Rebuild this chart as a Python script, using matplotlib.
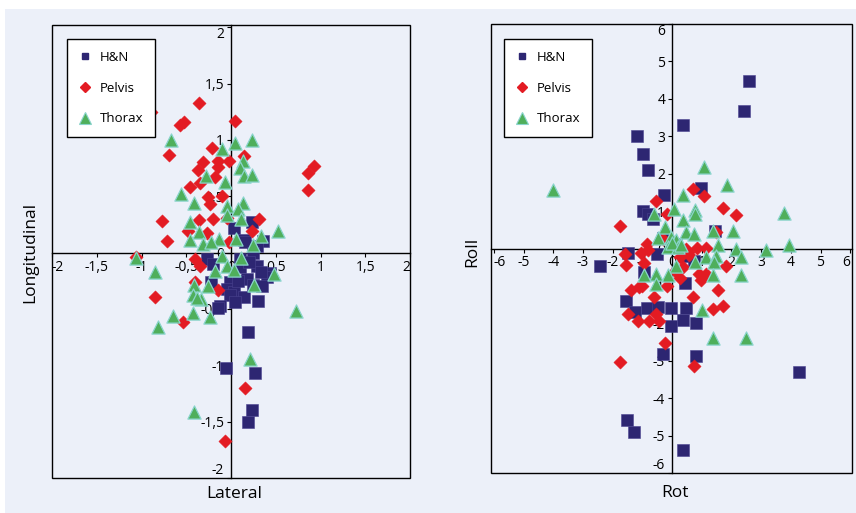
import matplotlib
matplotlib.use("Agg")
import matplotlib.pyplot as plt
from matplotlib.patches import Rectangle
from matplotlib.lines import Line2D

# ---------------- data ----------------
series_names = ["H&N", "Pelvis", "Thorax"]

left_hn = [(0.24, 0.27), (0.03, 0.22), (0.14, 0.11), (0.36, 0.10), (0.16, 0.09), (0.29, 0.06),
           (0.25, 0.00), (0.10, -0.06), (-0.27, -0.06), (-0.20, -0.10), (0.10, -0.13), (0.29, -0.12),
           (0.44, -0.18), (0.40, -0.22), (0.33, -0.17), (0.18, -0.23), (-0.01, -0.26), (-0.22, -0.26),
           (-0.05, -0.32), (0.25, -0.29), (0.03, -0.35), (-0.01, -0.38), (0.14, -0.39), (0.30, -0.43),
           (0.045, -0.44), (-0.12, -0.47), (-0.14, -0.49), (0.19, -0.70), (-0.06, -1.02), (0.27, -1.07),
           (0.24, -1.40), (0.19, -1.50), (0.20, -0.08), (0.35, -0.30), (0.08, -0.25)]
left_pelvis = [(-0.89, 1.25), (-0.36, 1.33), (-0.57, 1.13), (-0.52, 1.16), (0.05, 1.17), (-0.21, 0.93),
               (-0.69, 0.87), (0.14, 0.86), (-0.31, 0.80), (-0.14, 0.81), (-0.02, 0.81), (-0.37, 0.73),
               (-0.15, 0.76), (-0.18, 0.67), (-0.35, 0.62), (-0.46, 0.58), (0.93, 0.77), (0.86, 0.71),
               (0.86, 0.56), (-0.24, 0.43), (-0.26, 0.49), (-0.10, 0.50), (-0.77, 0.28), (-0.36, 0.29),
               (-0.20, 0.30), (-0.05, 0.31), (0.31, 0.30), (0.23, 0.19), (-0.48, 0.19), (-0.72, 0.10),
               (-0.27, 0.17), (-0.02, 0.09), (-1.06, -0.04), (-0.40, -0.06), (-0.35, -0.12), (-0.40, -0.26),
               (-0.14, -0.33), (-0.85, -0.39), (-0.54, -0.62), (0.16, -1.20), (-0.07, -1.67)]
left_thorax = [(-0.67, 1.00), (-0.10, 0.92), (0.05, 0.97), (0.23, 1.00), (0.13, 0.81), (0.10, 0.75),
               (0.15, 0.68), (0.24, 0.69), (-0.28, 0.68), (-0.07, 0.63), (-0.56, 0.52), (-0.41, 0.44),
               (-0.05, 0.41), (0.13, 0.44), (0.08, 0.39), (-0.05, 0.33), (0.11, 0.30), (-0.46, 0.27),
               (-0.36, 0.18), (-0.13, 0.12), (0.06, 0.12), (0.34, 0.15), (0.52, 0.19), (-0.46, 0.11),
               (-0.31, 0.08), (-0.22, 0.09), (0.25, 0.07), (-1.06, -0.05), (-0.10, -0.03), (0.11, -0.05),
               (-0.04, -0.12), (0.03, -0.15), (-0.18, -0.16), (-0.85, -0.17), (0.48, -0.19), (-0.41, -0.29),
               (-0.26, -0.30), (0.26, -0.29), (-0.42, -0.38), (-0.33, -0.41), (0.73, -0.52), (-0.43, -0.54),
               (-0.65, -0.56), (-0.24, -0.57), (-0.82, -0.66), (0.21, -0.94), (-0.41, -1.41), (-0.38, -0.40)]

right_hn = [(2.58, 4.48), (2.43, 3.68), (0.36, 3.31), (-1.19, 3.00), (-0.97, 2.52), (-0.82, 2.09),
            (-0.28, 1.43), (0.98, 1.63), (-0.99, 1.01), (-0.82, 0.92), (-0.65, 0.80), (1.44, 0.46),
            (-0.29, 0.27), (0.13, 0.13), (-1.49, -0.12), (-0.50, -0.16), (0.47, -0.20), (0.75, -0.33),
            (-2.43, -0.48), (-0.93, -0.63), (0.42, -0.92), (-1.56, -1.40), (-1.24, -1.69), (-0.83, -1.60),
            (-0.48, -1.56), (-0.03, -1.58), (0.47, -1.60), (0.36, -1.91), (-0.03, -2.06), (0.81, -2.00),
            (-0.32, -2.81), (0.81, -2.88), (4.29, -3.30), (-1.52, -4.59), (-1.29, -4.90), (0.36, -5.39)]
right_pelvis = [(0.69, 1.58), (1.09, 1.39), (-0.54, 1.28), (1.70, 1.08), (2.15, 0.90), (-0.16, 0.92),
                (-1.77, 0.59), (1.47, 0.44), (-0.85, 0.11), (-0.82, -0.05), (-1.04, -0.13), (-1.60, -0.14),
                (-1.55, -0.45), (-0.93, -0.40), (0.47, 0.00), (0.84, 0.02), (1.14, 0.02), (0.25, -0.22),
                (0.53, -0.09), (0.58, -0.18), (0.36, -0.49), (1.80, -0.46), (0.92, -0.67), (1.14, -0.67),
                (0.98, -0.85), (0.25, -0.78), (-1.40, -1.11), (-1.13, -1.03), (-1.02, -1.01), (-0.18, -1.00),
                (1.54, -1.11), (-0.60, -1.29), (0.69, -1.29), (1.70, -1.53), (1.37, -1.62), (-1.47, -1.74),
                (-1.16, -1.93), (-0.78, -1.93), (-0.54, -1.74), (-0.45, -1.94), (-0.24, -2.52), (-1.77, -3.03),
                (0.75, -3.15), (-0.30, 0.25), (0.10, -0.60)]
right_thorax = [(1.07, 2.17), (1.85, 1.69), (-4.02, 1.56), (0.37, 1.44), (0.08, 1.06), (-0.61, 0.91),
                (0.78, 1.03), (0.76, 0.93), (3.78, 0.95), (0.38, 0.75), (-0.23, 0.57), (0.47, 0.45),
                (0.74, 0.40), (1.37, 0.47), (2.06, 0.47), (-0.48, 0.27), (-0.03, 0.31), (0.13, 0.22),
                (-0.15, 0.04), (0.19, 0.04), (1.54, 0.09), (2.14, 0.00), (3.15, -0.04), (3.93, 0.09),
                (2.32, -0.22), (1.14, -0.22), (1.48, -0.21), (0.76, -0.36), (1.42, -0.36), (0.13, -0.47),
                (-0.15, -0.71), (-0.54, -0.67), (-0.93, -0.71), (1.39, -0.71), (2.32, -0.71), (-0.54, -0.96),
                (1.00, -1.64), (1.38, -2.38), (2.48, -2.38), (0.00, 0.15), (0.30, 0.10)]

left_ticks = [-2, -1.5, -1, -0.5, 0, 0.5, 1, 1.5, 2]
left_ticklabels = ["-2", "-1,5", "-1", "-0,5", "0", "0,5", "1", "1,5", "2"]
right_ticks = [-6, -5, -4, -3, -2, -1, 0, 1, 2, 3, 4, 5, 6]
right_ticklabels = ["-6", "-5", "-4", "-3", "-2", "-1", "0", "1", "2", "3", "4", "5", "6"]

# ---------------- style ----------------
plt.rcParams['font.family'] = ['Open Sans', 'DejaVu Sans']
BG = "#ECF0F9"
C_HN = "#2D2672"
C_PEL = "#E31B23"
C_TH = "#4FAF5B"
C_TH_EDGE = "#8AD4CC"

fig = plt.figure(figsize=(8.56, 5.13), dpi=100, facecolor="white")
fig.patches.append(Rectangle((5 / 856, 0), 1, 1 - 9 / 513, transform=fig.transFigure,
                             facecolor=BG, edgecolor="none", zorder=-10))


def panel(rect, hn, pel, th, xlim, ylim, ticks, labels, xlabel, ylabel, xlab_pos, ylab_pos, leg_anchor):
    ax = fig.add_axes(rect)
    ax.set_facecolor("none")
    ax.scatter([p[0] for p in hn], [p[1] for p in hn], marker="s", s=64, c=C_HN,
               edgecolors="#4A4390", linewidths=0.4, zorder=3)
    ax.scatter([p[0] for p in pel], [p[1] for p in pel], marker="D", s=46, c=C_PEL,
               edgecolors=C_PEL, linewidths=0.3, zorder=3)
    ax.scatter([p[0] for p in th], [p[1] for p in th], marker="^", s=90, c=C_TH,
               edgecolors=C_TH_EDGE, linewidths=0.9, zorder=3)
    ax.set_xlim(*xlim)
    ax.set_ylim(*ylim)
    for s in ("top", "right"):
        ax.spines[s].set_visible(False)
    ax.spines["left"].set_position(("data", 0))
    ax.spines["bottom"].set_position(("data", 0))
    ax.spines["left"].set_linewidth(1.0)
    ax.spines["bottom"].set_linewidth(1.0)
    ax.set_xticks(ticks)
    ax.set_xticklabels(labels)
    ax.set_yticks(ticks)
    ax.set_yticklabels(labels)
    ax.tick_params(direction="out", length=3, width=0.8, labelsize=10, pad=2, colors="black")
    # edge labels kept inside the frame, as in the original
    xl = ax.get_xticklabels()
    xl[0].set_ha("left")
    xl[-1].set_ha("right")
    yl = ax.get_yticklabels()
    yl[0].set_va("bottom")
    yl[-1].set_va("top")
    ax.add_patch(Rectangle((0, 0), 1, 1, transform=ax.transAxes, fill=False,
                           edgecolor="black", linewidth=1.0, clip_on=False, zorder=4))
    ax.text(xlab_pos[0], xlab_pos[1], xlabel, transform=ax.transAxes, ha="center", va="center",
            fontsize=12.5)
    ax.text(ylab_pos[0], ylab_pos[1], ylabel, transform=ax.transAxes, ha="center", va="center",
            rotation=90, fontsize=12.5)
    handles = [
        Line2D([], [], linestyle="none", marker="s", markersize=5, color=C_HN),
        Line2D([], [], linestyle="none", marker="D", markersize=5, color=C_PEL),
        Line2D([], [], linestyle="none", marker="^", markersize=8, color=C_TH,
               markeredgecolor=C_TH_EDGE, markeredgewidth=0.8),
    ]
    leg = ax.legend(handles, series_names, loc="upper left", bbox_to_anchor=leg_anchor,
                    borderaxespad=0, frameon=True, fancybox=False, framealpha=1,
                    edgecolor="black", fontsize=9.5, labelspacing=1.35, handlelength=1.0,
                    handletextpad=0.6, borderpad=0.9)
    leg.get_frame().set_linewidth(1.0)
    leg.set_zorder(6)
    return ax


panel([52 / 856, 35 / 513, 358 / 856, 453 / 513], left_hn, left_pelvis, left_thorax,
      (-2, 2), (-2.0, 2.02), left_ticks, left_ticklabels, "Lateral", "Longitudinal",
      (0.51, -0.035), (-0.061, 0.499), (15 / 358, 1 - 14 / 453))
panel([491 / 856, 40 / 513, 360.7 / 856, 449 / 513], right_hn, right_pelvis, right_thorax,
      (-6.1, 6.05), (-6.0, 6.0), right_ticks, right_ticklabels, "Rot", "Roll",
      (0.51, -0.045), (-0.053, 0.492), (13 / 360.7, 1 - 15 / 449))

fig.savefig("out.png", dpi=100, facecolor=fig.get_facecolor())
